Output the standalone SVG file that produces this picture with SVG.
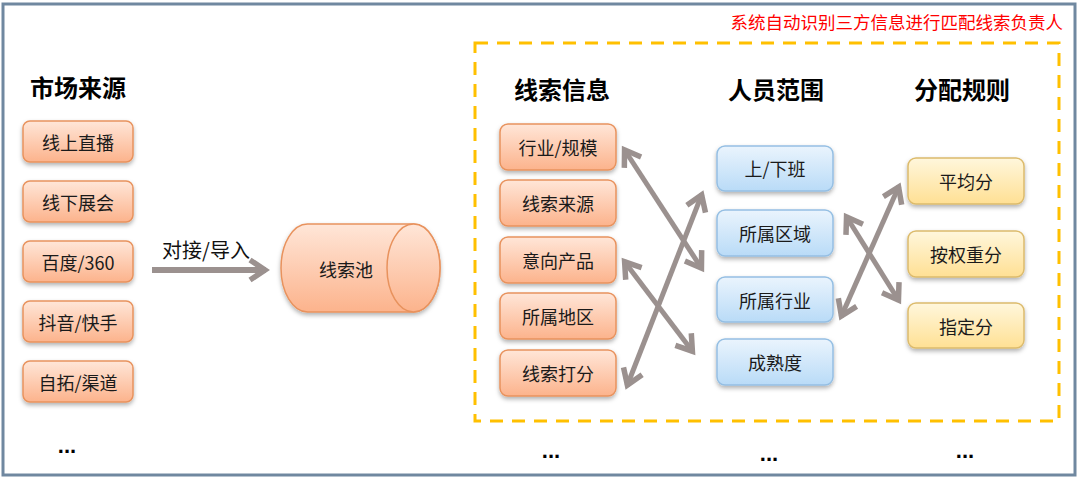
<svg xmlns="http://www.w3.org/2000/svg" width="1080" height="490" viewBox="0 0 1080 490">
<defs>
<linearGradient id="gOr" x1="0" y1="0" x2="0" y2="1"><stop offset="0" stop-color="#ffe6d8"/><stop offset="1" stop-color="#fcb38c"/></linearGradient>
<linearGradient id="gBl" x1="0" y1="0" x2="0" y2="1"><stop offset="0" stop-color="#eaf4fd"/><stop offset="1" stop-color="#b9dbf7"/></linearGradient>
<linearGradient id="gYe" x1="0" y1="0" x2="0" y2="1"><stop offset="0" stop-color="#fff7dc"/><stop offset="1" stop-color="#ffe094"/></linearGradient>
<filter id="sh" x="-20%" y="-20%" width="140%" height="160%"><feDropShadow dx="0" dy="2.5" stdDeviation="2" flood-color="#000" flood-opacity="0.3"/></filter>
<marker id="ah" markerUnits="userSpaceOnUse" markerWidth="40" markerHeight="40" viewBox="-30 -20 40 40" refX="0" refY="0" orient="auto-start-reverse">
<path d="M-16,-10 L-1,0 L-16,10" fill="none" stroke="#9b918f" stroke-width="5.5" stroke-linejoin="miter"/>
</marker>
<style>
.t{font-family:"Noto Sans CJK SC","Liberation Sans",sans-serif;font-size:18px;fill:#1a1a1a;text-anchor:middle;dominant-baseline:central}
.h{font-family:"Noto Sans CJK SC","Liberation Sans",sans-serif;font-size:24px;font-weight:bold;fill:#000;text-anchor:middle;dominant-baseline:central}
.or{fill:url(#gOr);stroke:#e8925d;stroke-width:1.5;filter:url(#sh)}
.bl{fill:url(#gBl);stroke:#95bfe3;stroke-width:1.5;filter:url(#sh)}
.ye{fill:url(#gYe);stroke:#dcbb6c;stroke-width:1.5;filter:url(#sh)}
.ar{stroke:#9b918f;stroke-width:5;fill:none;marker-start:url(#ah);marker-end:url(#ah)}
.dots{font-family:"Liberation Sans",sans-serif;font-size:22px;font-weight:bold;fill:#000;text-anchor:middle}
</style>
</defs>
<rect x="0" y="0" width="1080" height="490" fill="#fff"/>
<rect x="3" y="4" width="1072" height="471" fill="none" stroke="#7088a0" stroke-width="3"/>
<text x="1063" y="21" font-family="Noto Sans CJK SC, Liberation Sans, sans-serif" font-size="17.5" fill="#ff0000" text-anchor="end" dominant-baseline="central">系统自动识别三方信息进行匹配线索负责人</text>
<rect id="zone" x="475" y="43" width="584" height="378" fill="none" stroke="#ffc000" stroke-width="3" stroke-dasharray="13 9"/>

<text class="h" x="78" y="86">市场来源</text>
<text class="h" x="562" y="88">线索信息</text>
<text class="h" x="776" y="88">人员范围</text>
<text class="h" x="962" y="88">分配规则</text>

<g id="src1"><rect class="or" x="23" y="121" width="110" height="41" rx="7"/><text class="t" x="78" y="142">线上直播</text></g>
<g id="src2"><rect class="or" x="23" y="181" width="110" height="41" rx="7"/><text class="t" x="78" y="202">线下展会</text></g>
<g id="src3"><rect class="or" x="23" y="241" width="110" height="41" rx="7"/><text class="t" x="78" y="262">百度/360</text></g>
<g id="src4"><rect class="or" x="23" y="301" width="110" height="41" rx="7"/><text class="t" x="78" y="322">抖音/快手</text></g>
<g id="src5"><rect class="or" x="23" y="361" width="110" height="41" rx="7"/><text class="t" x="78" y="382">自拓/渠道</text></g>
<text class="dots" x="67" y="453">...</text>

<g id="pool">
<path class="or" d="M307.5,224 L413.5,224 A26.5,44 0 0 1 413.5,312 L307.5,312 A26.5,44 0 0 1 307.5,224 Z"/>
<ellipse cx="413.5" cy="268" rx="26.5" ry="44" fill="url(#gOr)" stroke="#e8925d" stroke-width="1.5"/>
<text class="t" x="346" y="269">线索池</text>
</g>

<g id="info1"><rect class="or" x="500" y="124" width="116" height="46" rx="8"/><text class="t" x="558" y="147">行业/规模</text></g>
<g id="info2"><rect class="or" x="500" y="180" width="116" height="46" rx="8"/><text class="t" x="558" y="203">线索来源</text></g>
<g id="info3"><rect class="or" x="500" y="237" width="116" height="46" rx="8"/><text class="t" x="558" y="260">意向产品</text></g>
<g id="info4"><rect class="or" x="500" y="293" width="116" height="46" rx="8"/><text class="t" x="558" y="316">所属地区</text></g>
<g id="info5"><rect class="or" x="500" y="350" width="116" height="46" rx="8"/><text class="t" x="558" y="373">线索打分</text></g>

<g id="staff1"><rect class="bl" x="717" y="146" width="116" height="45" rx="8"/><text class="t" x="775" y="168">上/下班</text></g>
<g id="staff2"><rect class="bl" x="717" y="210" width="116" height="46" rx="8"/><text class="t" x="775" y="233">所属区域</text></g>
<g id="staff3"><rect class="bl" x="717" y="277" width="116" height="45" rx="8"/><text class="t" x="775" y="300">所属行业</text></g>
<g id="staff4"><rect class="bl" x="717" y="339" width="116" height="46" rx="8"/><text class="t" x="775" y="362">成熟度</text></g>

<g id="rule1"><rect class="ye" x="908" y="158" width="116" height="46" rx="8"/><text class="t" x="966" y="181">平均分</text></g>
<g id="rule2"><rect class="ye" x="908" y="231" width="116" height="46" rx="8"/><text class="t" x="966" y="254">按权重分</text></g>
<g id="rule3"><rect class="ye" x="908" y="303" width="116" height="45" rx="8"/><text class="t" x="966" y="326">指定分</text></g>

<text class="dots" x="551" y="458">...</text>
<text class="dots" x="769" y="461">...</text>
<text class="dots" x="965" y="458">...</text>

<g id="connectors">
<line x1="152" y1="270" x2="266" y2="270" stroke="#9b918f" stroke-width="6" marker-end="url(#ah)"/>
<text x="206" y="249" font-family="Noto Sans CJK SC, Liberation Sans, sans-serif" font-size="20" fill="#111" text-anchor="middle" dominant-baseline="central">对接/导入</text>
<line class="ar" x1="624" y1="149" x2="702" y2="269"/>
<line class="ar" x1="627" y1="386" x2="702" y2="194"/>
<line class="ar" x1="624" y1="261" x2="693" y2="352"/>
<line class="ar" x1="846" y1="216" x2="899" y2="301"/>
<line class="ar" x1="841" y1="317" x2="899" y2="186"/>
</g>
</svg>
